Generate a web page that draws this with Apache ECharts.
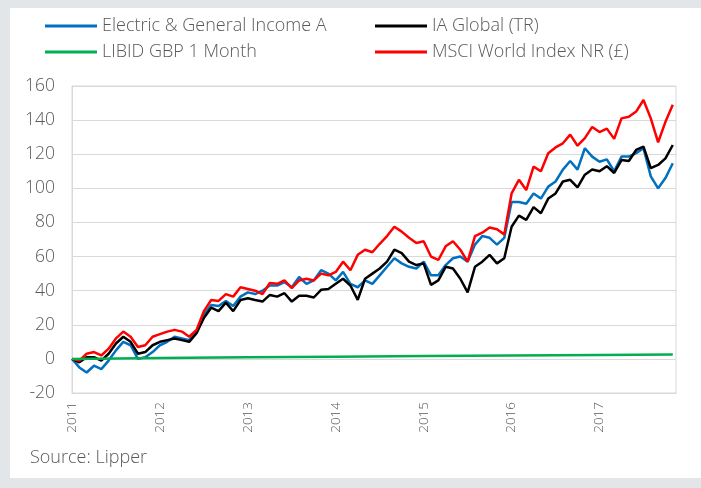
<!DOCTYPE html>
<html>

	<head>
		<meta charset="UTF-8">
		<title></title>
		<script src="https://cdn.jsdelivr.net/npm/echarts@6/dist/echarts.min.js"></script>
		<style>
			body { margin: 0; background: #e2e6e9; }
			#panel { position: absolute; left: 10px; top: 8px; width: 691px; height: 470px; background: #fff; }
			#chart { position: absolute; left: 0; top: 0; width: 701px; height: 488px; }
		</style>
	</head>

	<body>
		<div id="panel"></div>
		<div id="chart"></div>
		<script type="text/javascript">
			// monthly points, Jan 2011 - Nov 2017 (cumulative % growth)
			var months = [
				'2011-01', '2011-02', '2011-03', '2011-04', '2011-05', '2011-06', '2011-07', '2011-08', '2011-09', '2011-10', '2011-11', '2011-12',
				'2012-01', '2012-02', '2012-03', '2012-04', '2012-05', '2012-06', '2012-07', '2012-08', '2012-09', '2012-10', '2012-11', '2012-12',
				'2013-01', '2013-02', '2013-03', '2013-04', '2013-05', '2013-06', '2013-07', '2013-08', '2013-09', '2013-10', '2013-11', '2013-12',
				'2014-01', '2014-02', '2014-03', '2014-04', '2014-05', '2014-06', '2014-07', '2014-08', '2014-09', '2014-10', '2014-11', '2014-12',
				'2015-01', '2015-02', '2015-03', '2015-04', '2015-05', '2015-06', '2015-07', '2015-08', '2015-09', '2015-10', '2015-11', '2015-12',
				'2016-01', '2016-02', '2016-03', '2016-04', '2016-05', '2016-06', '2016-07', '2016-08', '2016-09', '2016-10', '2016-11', '2016-12',
				'2017-01', '2017-02', '2017-03', '2017-04', '2017-05', '2017-06', '2017-07', '2017-08', '2017-09', '2017-10', '2017-11'
			];
			var electric = [
				0, -5, -8, -4, -6, -1, 5, 10, 8, 0, 1, 4,
				8, 10, 13, 12, 11, 16, 26, 31.6, 31, 34, 31, 36.5,
				39, 38, 40, 43, 43, 45, 42, 48, 44, 46, 52, 50,
				46, 51, 44, 42, 46, 44, 49, 54, 59, 56, 54, 53,
				57, 49, 49, 55, 59, 60, 57, 67, 72, 71, 67, 71,
				92, 92, 91, 97, 94, 101, 104, 111, 116, 111, 123.5, 118.6,
				115.6, 117, 110, 118.6, 118.6, 120.6, 123.5, 107, 100, 106, 114.7
			];
			var iaGlobal = [
				0, -2, 1, 1, -1, 3, 9, 13, 10, 3, 4, 8,
				10, 11, 12, 11, 10, 15, 24, 30, 28, 33, 28, 34.5,
				35.5, 34.5, 33.6, 37.5, 36.5, 38.5, 33.6, 37, 37, 36, 40.5, 41,
				44, 47, 43, 34.6, 47, 50, 53, 57, 64, 62, 57, 55,
				56, 43.4, 46, 54, 53, 47, 39, 54, 57, 61, 56, 59,
				77.5, 84, 81.5, 89, 85.4, 94, 97, 104, 105, 100.5, 108, 111,
				110, 113, 109, 116.6, 116, 122.5, 124.5, 111.8, 113.7, 117.6, 125.4
			];
			var msci = [
				0, -1, 3, 4, 2, 6, 12, 16, 13, 7, 8, 13,
				14.5, 16, 17, 16, 13, 17, 28, 34.5, 34, 38, 36.5, 42,
				41, 40, 38, 44.5, 44, 46, 41.5, 46, 47, 46, 50, 49,
				51, 57, 52, 61, 64, 62.5, 67.5, 72, 77.5, 74.6, 71, 68,
				69, 60, 58, 66, 69, 64, 57, 72, 74, 77, 76, 73,
				97, 105, 99, 112.7, 110, 120.6, 124, 126.4, 131.5, 125, 129.4, 136,
				133, 135, 129, 141, 142, 145, 151.8, 141, 127, 139, 149
			];
			var libidMonths = ['2011-01', '2012-01', '2013-01', '2014-01', '2015-01', '2016-01', '2017-01', '2017-11'];
			var libid = [0, 0.5, 0.9, 1.3, 1.7, 2.0, 2.3, 2.6];
			var yearLabels = ['2011', '2012', '2013', '2014', '2015', '2016', '2017'];

			function toYear(s) {
				var p = s.split('-');
				return +p[0] + (+p[1] - 1) / 12;
			}
			function pairs(dates, vals) {
				return dates.map(function(d, i) {
					return [toYear(d), vals[i]];
				});
			}

			var grey = '#595959';
			var font = '"Open Sans"';
			var myChart = echarts.init(document.getElementById('chart'));

			function legendAt(name, left, top) {
				return {
					data: [name],
					left: left,
					top: top,
					padding: 0,
					icon: 'rect',
					itemWidth: 52,
					itemHeight: 3,
					itemGap: 0,
					selectedMode: false,
					textStyle: { fontFamily: font, fontWeight: 300, fontSize: 18, color: grey, lineHeight: 20 }
				};
			}

			function lineSeries(name, color, data) {
				return {
					name: name,
					type: 'line',
					data: data,
					showSymbol: false,
					color: color,
					lineStyle: { width: 2.5, color: color },
					animation: false
				};
			}

			myChart.setOption({
				animation: false,
				legend: [
					legendAt('Electric & General Income A', 45, 16),
					legendAt('IA Global (TR)', 375, 16),
					legendAt('LIBID GBP 1 Month', 45, 42),
					legendAt('MSCI World Index NR (£)', 375, 42)
				],
				grid: {
					left: 72,
					right: 25,
					top: 86,
					bottom: 95,
					show: true,
					borderColor: '#d9d9d9',
					borderWidth: 1
				},
				xAxis: {
					type: 'value',
					min: 2011,
					max: 2017.87,
					interval: 1,
					axisLine: { show: true, onZero: false, lineStyle: { color: '#d9d9d9' } },
					axisTick: { show: false },
					splitLine: { show: false },
					axisLabel: {
						rotate: 90,
						margin: 9,
						showMaxLabel: false,
						fontFamily: font,
						fontWeight: 300,
						fontSize: 13.5,
						color: grey,
						formatter: function(v) {
							var i = Math.round(v) - 2011;
							return Math.abs(v - Math.round(v)) < 0.001 ? yearLabels[i] : '';
						}
					}
				},
				yAxis: {
					type: 'value',
					min: -20,
					max: 160,
					interval: 20,
					axisLine: { show: true, lineStyle: { color: '#d9d9d9' } },
					axisTick: { show: false },
					splitLine: { lineStyle: { color: '#d9d9d9' } },
					axisLabel: { margin: 17, fontFamily: font, fontWeight: 300, fontSize: 17.5, color: grey }
				},
				graphic: [{
					type: 'text',
					left: 30,
					top: 449,
					style: { text: 'Source: Lipper', font: '300 18px ' + font, fill: grey }
				}],
				series: [
					lineSeries('Electric & General Income A', '#0070c0', pairs(months, electric)),
					lineSeries('IA Global (TR)', '#000000', pairs(months, iaGlobal)),
					lineSeries('MSCI World Index NR (£)', '#ff0000', pairs(months, msci)),
					lineSeries('LIBID GBP 1 Month', '#00b050', pairs(libidMonths, libid))
				]
			});
		</script>

	</body>

</html>
